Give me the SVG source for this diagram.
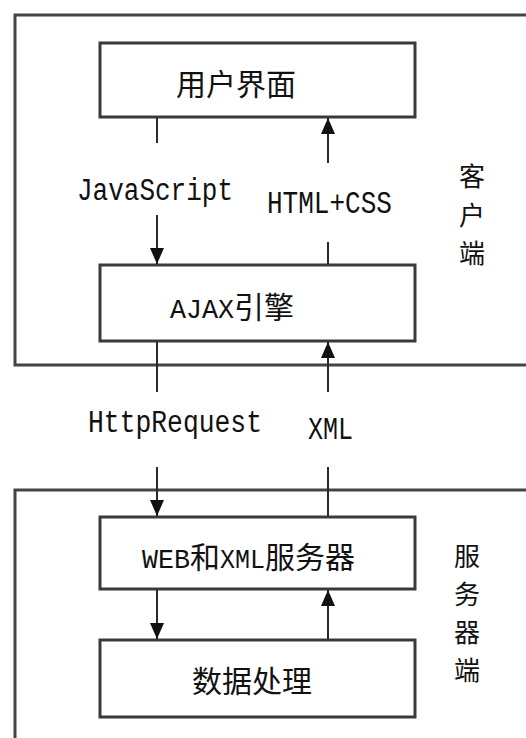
<svg xmlns="http://www.w3.org/2000/svg" width="526" height="738" viewBox="0 0 526 738">
<style>
.frame{fill:none;stroke:#444;stroke-width:3}
.box{fill:#fff;stroke:#3a3a3a;stroke-width:3}
.ln{stroke:#2a2a2a;stroke-width:2;fill:none}
.cjk{font-family:"Noto Sans CJK SC","Noto Sans CJK JP",sans-serif;fill:#111}
.side{font-family:"Noto Sans CJK SC","Noto Sans CJK JP",sans-serif;fill:#111;font-size:26px;text-anchor:middle}
.mono{font-family:"Liberation Mono","DejaVu Sans Mono",monospace;fill:#111}
</style>
<defs>
<marker id="ah" viewBox="0 0 16 14" refX="16" refY="7" markerWidth="16" markerHeight="14" markerUnits="userSpaceOnUse" orient="auto">
<path d="M0,0 L16,7 L0,14 Z" fill="#111"/>
</marker>
</defs>
<rect width="526" height="738" fill="#fff"/>
<g id="client">
<rect class="frame" x="15" y="15" width="530" height="350"/>
<text class="side" x="472" y="186">客</text>
<text class="side" x="472" y="225">户</text>
<text class="side" x="472" y="263">端</text>
</g>
<g id="server">
<rect class="frame" x="15" y="490" width="530" height="270"/>
<text class="side" x="467" y="566">服</text>
<text class="side" x="467" y="604">务</text>
<text class="side" x="467" y="642">器</text>
<text class="side" x="467" y="680">端</text>
</g>
<g id="ui">
<rect class="box" x="100" y="43" width="315" height="74"/>
<text class="cjk" font-size="30" x="176" y="95">用户界面</text>
</g>
<g id="ajax">
<rect class="box" x="100" y="265" width="315" height="76"/>
<text x="170" y="318"><tspan class="mono" font-size="28" textLength="64" lengthAdjust="spacingAndGlyphs">AJAX</tspan><tspan class="cjk" font-size="30">引擎</tspan></text>
</g>
<g id="web">
<rect class="box" x="100" y="517" width="315" height="72"/>
<text x="142" y="568"><tspan class="mono" font-size="27" textLength="48" lengthAdjust="spacingAndGlyphs">WEB</tspan><tspan class="cjk" font-size="30">和</tspan><tspan class="mono" font-size="27" textLength="45" lengthAdjust="spacingAndGlyphs">XML</tspan><tspan class="cjk" font-size="30">服务器</tspan></text>
</g>
<g id="data">
<rect class="box" x="100" y="640" width="315" height="77"/>
<text class="cjk" font-size="30" x="192" y="692">数据处理</text>
</g>
<g id="connectors">
<line class="ln" x1="157" y1="118" x2="157" y2="143"/>
<line class="ln" x1="157" y1="215" x2="157" y2="264" marker-end="url(#ah)"/>
<line class="ln" x1="328" y1="163" x2="328" y2="118" marker-end="url(#ah)"/>
<line class="ln" x1="328" y1="242" x2="328" y2="264"/>
<line class="ln" x1="157" y1="342" x2="157" y2="392"/>
<line class="ln" x1="157" y1="467" x2="157" y2="516" marker-end="url(#ah)"/>
<line class="ln" x1="328" y1="392" x2="328" y2="342" marker-end="url(#ah)"/>
<line class="ln" x1="328" y1="467" x2="328" y2="516"/>
<line class="ln" x1="157" y1="590" x2="157" y2="639" marker-end="url(#ah)"/>
<line class="ln" x1="328" y1="639" x2="328" y2="590" marker-end="url(#ah)"/>
<text class="mono" font-size="31" x="77" y="200" textLength="156" lengthAdjust="spacingAndGlyphs">JavaScript</text>
<text class="mono" font-size="31" x="267" y="213" textLength="125" lengthAdjust="spacingAndGlyphs">HTML+CSS</text>
<text class="mono" font-size="31" x="88" y="432" textLength="174" lengthAdjust="spacingAndGlyphs">HttpRequest</text>
<text class="mono" font-size="31" x="308" y="439" textLength="45" lengthAdjust="spacingAndGlyphs">XML</text>
</g>
</svg>
